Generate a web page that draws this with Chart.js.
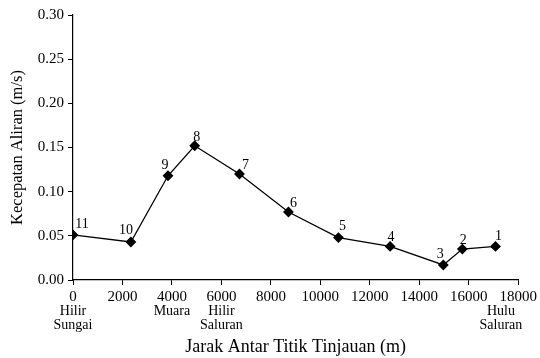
<!DOCTYPE html>
<html>
<head>
<meta charset="utf-8">
<script src="https://cdn.jsdelivr.net/npm/chart.js@4/dist/chart.umd.min.js"></script>
<style>
  html, body { margin: 0; padding: 0; background: #fff; }
  #wrap { width: 540px; height: 358px; }
</style>
</head>
<body>
<div id="wrap"><canvas id="flowChart" width="540" height="358"></canvas></div>
<script>
// distance along the channel (m) and flow velocity (m/s) per observation point
const distance = [0, 2340, 3840, 4920, 6730, 8710, 10730, 12820, 14970, 15740, 17080];
const velocity = [0.051, 0.043, 0.118, 0.152, 0.120, 0.077, 0.048, 0.038, 0.017, 0.035, 0.038];
const pointNo = ['11', '10', '9', '8', '7', '6', '5', '4', '3', '2', '1'];

// location names written under the x axis
const placeX = [0, 4000, 6000, 17300];
const placeName = [['Hilir', 'Sungai'], ['Muara'], ['Hilir', 'Saluran'], ['Hulu', 'Saluran']];

const FONT = '"Liberation Serif", "Times New Roman", serif';

// where each point number sits relative to its marker (px)
const labelOffsets = [[9, -11], [-5, -12], [-3, -10], [2, -8], [6, -9], [5, -9], [4, -11], [1, -9], [-3, -11], [1, -9], [3, -10]];

const pointNumbers = {
  id: 'pointNumbers',
  afterDatasetsDraw(chart) {
    const ctx = chart.ctx;
    const meta = chart.getDatasetMeta(0);
    ctx.save();
    ctx.font = '14px ' + FONT;
    ctx.fillStyle = '#000';
    ctx.textAlign = 'center';
    ctx.textBaseline = 'middle';
    meta.data.forEach((pt, i) => {
      const off = labelOffsets[i];
      ctx.fillText(pointNo[i], pt.x + off[0], pt.y + off[1]);
    });
    ctx.restore();
  }
};

const placeLabels = {
  id: 'placeLabels',
  afterDraw(chart) {
    const ctx = chart.ctx;
    const xs = chart.scales.x;
    const base = chart.chartArea.bottom;
    ctx.save();
    ctx.font = '14px ' + FONT;
    ctx.fillStyle = '#000';
    ctx.textAlign = 'center';
    ctx.textBaseline = 'middle';
    placeX.forEach((v, i) => {
      const px = xs.getPixelForValue(v);
      placeName[i].forEach((line, j) => {
        ctx.fillText(line, px, base + 31 + j * 14);
      });
    });
    ctx.restore();
  }
};

const points = distance.map((d, i) => ({ x: d, y: velocity[i] }));

new Chart(document.getElementById('flowChart').getContext('2d'), {
  type: 'scatter',
  data: {
    datasets: [{
      data: points,
      showLine: true,
      borderColor: '#000',
      borderWidth: 1.3,
      backgroundColor: '#000',
      pointStyle: 'rectRot',
      pointRadius: 4.5,
      pointBackgroundColor: '#000',
      pointBorderColor: '#000',
      tension: 0
    }]
  },
  options: {
    responsive: false,
    animation: false,
    events: [],
    layout: { padding: { top: 15, right: 21, left: 0, bottom: 0 } },
    plugins: {
      legend: { display: false },
      tooltip: { enabled: false }
    },
    scales: {
      x: {
        type: 'linear',
        min: 0,
        max: 18000,
        afterFit: (s) => { s.height = 78; },
        ticks: {
          stepSize: 2000,
          padding: 3,
          color: '#000',
          font: { family: FONT, size: 15 },
          maxRotation: 0,
          callback: (v) => String(v)
        },
        grid: { drawOnChartArea: false, color: '#000', tickLength: 5, tickWidth: 1 },
        border: { color: '#000', width: 1.2 },
        title: {
          display: true,
          text: 'Jarak Antar Titik Tinjauan (m)',
          color: '#000',
          font: { family: FONT, size: 18 },
          padding: { top: 0, bottom: 0 }
        }
      },
      y: {
        min: 0,
        max: 0.3,
        afterFit: (s) => { s.width = 73; },
        ticks: {
          stepSize: 0.05,
          padding: 4,
          color: '#000',
          font: { family: FONT, size: 15 },
          callback: (v) => v.toFixed(2)
        },
        grid: { drawOnChartArea: false, color: '#000', tickLength: 5, tickWidth: 1 },
        border: { color: '#000', width: 1.2 },
        title: {
          display: true,
          text: 'Kecepatan Aliran (m/s)',
          color: '#000',
          font: { family: FONT, size: 16.5 },
          padding: { top: 8, bottom: 0 }
        }
      }
    }
  },
  plugins: [pointNumbers, placeLabels]
});
</script>
</body>
</html>
